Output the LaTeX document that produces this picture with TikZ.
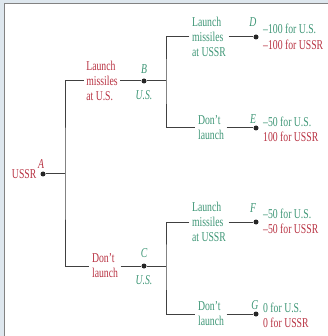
\documentclass[tikz,border=0pt]{standalone}
\usepackage{fontspec}
\setmainfont{Liberation Serif}[FakeStretch=0.72]
\usetikzlibrary{positioning}
\definecolor{ussrred}{RGB}{184,50,66}
\definecolor{usgreen}{RGB}{62,150,118}
\definecolor{bandblue}{RGB}{222,231,238}
\definecolor{edgegray}{RGB}{130,130,130}
\tikzset{
	move/.style={align=left, inner sep=2.5pt, font=\fontsize{13.5}{15}\selectfont},
	payoff/.style={align=left, inner sep=0pt, anchor=west, font=\fontsize{13.5}{15.5}\selectfont},
	dot/.style={circle, fill=black!85, inner sep=0pt, minimum size=5pt},
	tag/.style={inner sep=0pt, font=\fontsize{13.5}{14}\itshape, text=usgreen},
	branch/.style={draw=black!75, line width=1pt},
}

\begin{document}
\begin{tikzpicture}[x=1pt, y=-1pt]
	\useasboundingbox (0,0) rectangle (328,336);
	\fill[bandblue] (0,0) rectangle (328,3.5);
	\fill[bandblue] (0,0) rectangle (4,336);
	\draw[edgegray, line width=1pt] (4.5,336) -- (4.5,4) -- (328,4);

	% first move: USSR
	\node[dot] (a) at (43,174) {};
	\node[tag, text=ussrred] at (41,164) {A};
	\node[move, text=ussrred, anchor=east] (ussr) at (39,174) {USSR};
	\coordinate (splita) at (65,174);

	\node[move, text=ussrred] (launchus) at (102,81) {Launch\\missiles\\at U.S.};
	\node[move, text=ussrred] (dontus) at (105,266) {Don't\\launch};

	% second move: U.S.
	\node[dot] (b) at (144,81) {};
	\node[tag] at (144,69) {B};
	\node[tag] at (144,95) {U.S.};
	\node[dot] (c) at (144,266) {};
	\node[tag] at (144,253) {C};
	\node[tag] at (144,280) {U.S.};
	\coordinate (splitb) at (166,81);
	\coordinate (splitc) at (166,266);

	\node[move, text=usgreen] (launchd) at (209,37) {Launch\\missiles\\at USSR};
	\node[move, text=usgreen] (dontd) at (211,128) {Don't\\launch};
	\node[move, text=usgreen] (launchf) at (209,222) {Launch\\missiles\\at USSR};
	\node[move, text=usgreen] (dontf) at (211,314) {Don't\\launch};

	% outcomes
	\node[dot] (d) at (256,37) {};
	\node[dot] (e) at (256,128) {};
	\node[dot] (f) at (256,222) {};
	\node[dot] (g) at (256,314) {};
	\node[tag] at (253,22) {D};
	\node[tag] at (253,119) {E};
	\node[tag] at (253,208) {F};
	\node[tag] at (255,305) {G};

	\node[payoff] (payd) at (263,37) {{\color{usgreen}--100 for U.S.}\\{\color{ussrred}--100 for USSR}};
	\node[payoff] (paye) at (263,129.5) {{\color{usgreen}--50 for U.S.}\\{\color{ussrred}100 for USSR}};
	\node[payoff] (payf) at (263,221.5) {{\color{usgreen}--50 for U.S.}\\{\color{ussrred}--50 for USSR}};
	\node[payoff] (payg) at (263,315.5) {{\color{usgreen}0 for U.S.}\\{\color{ussrred}0 for USSR}};

	\draw[branch] (a) -- (splita);
	\draw[branch] (launchus.west) -| (splita) |- (dontus.west);
	\draw[branch] (launchus) -- (b) -- (splitb);
	\draw[branch] (dontus) -- (c) -- (splitc);
	\draw[branch] (launchd.west) -| (splitb) |- (dontd.west);
	\draw[branch] (launchf.west) -| (splitc) |- (dontf.west);
	\draw[branch] (launchd) -- (d);
	\draw[branch] (dontd) -- (e);
	\draw[branch] (launchf) -- (f);
	\draw[branch] (dontf) -- (g);
\end{tikzpicture}
\end{document}
